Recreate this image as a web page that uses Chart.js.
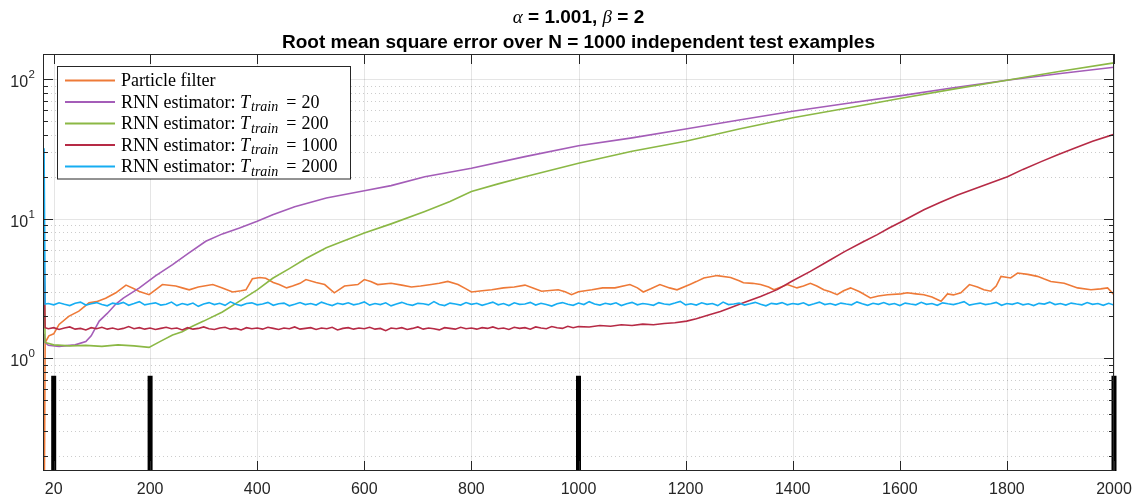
<!DOCTYPE html>
<html>
<head>
<meta charset="utf-8">
<script src="https://cdn.jsdelivr.net/npm/chart.js@4.4.1/dist/chart.umd.min.js"></script>
<style>
  html, body { margin: 0; padding: 0; background: #ffffff; }
  #wrap { width: 1132px; height: 495px; }
</style>
</head>
<body>
<div id="wrap"><canvas id="c" width="1132" height="495"></canvas></div>
<script>
// ---------------- data ----------------
const titleLine1 = ['α', ' = 1.001, ', 'β', ' = 2'];
const titleLine2 = 'Root mean square error over N = 1000 independent test examples';
const seriesNames = ['Particle filter', 'RNN estimator: ', 'RNN estimator: ', 'RNN estimator: ', 'RNN estimator: '];
const trainLengths = [null, '20', '200', '1000', '2000'];
const xTicks = [20, 200, 400, 600, 800, 1000, 1200, 1400, 1600, 1800, 2000];
const yMajorTicks = [1, 10, 100];
const yMinorTicks = [0.2, 0.3, 0.4, 0.5, 0.6, 0.7, 0.8, 0.9, 2, 3, 4, 5, 6, 7, 8, 9, 20, 30, 40, 50, 60, 70, 80, 90];
const markerSteps = [20, 200, 1000, 2000];
const markerHeight = 0.75;

const pfT = [1, 2, 4, 11, 20, 30, 48, 67, 86, 100, 117, 136, 155, 170, 180, 198, 210, 223, 248, 260, 273, 290, 317, 335, 354, 370, 379, 391, 405, 416, 430, 441, 455, 466, 480, 491, 510, 526, 544, 563, 588, 600, 612, 625, 650, 670, 688, 705, 725, 740, 756, 775, 790, 800, 820, 838, 860, 880, 900, 915, 931, 962, 975, 987, 1000, 1025, 1045, 1068, 1096, 1110, 1121, 1135, 1152, 1170, 1184, 1209, 1220, 1234, 1259, 1284, 1300, 1308, 1325, 1340, 1355, 1365, 1390, 1408, 1420, 1433, 1445, 1458, 1470, 1483, 1495, 1508, 1525, 1545, 1560, 1577, 1602, 1614, 1630, 1645, 1660, 1677, 1689, 1700, 1714, 1730, 1745, 1757, 1770, 1780, 1789, 1807, 1820, 1839, 1857, 1870, 1882, 1907, 1932, 1957, 1975, 1988, 2000];
const pfV = [0.05, 0.05, 1.3, 1.45, 1.5, 1.75, 2.0, 2.18, 2.5, 2.55, 2.7, 2.95, 3.35, 3.15, 3.02, 2.86, 3.1, 3.38, 3.3, 3.2, 3.1, 3.25, 3.38, 3.2, 2.99, 3.05, 3.1, 3.72, 3.8, 3.75, 3.5, 3.38, 3.2, 3.3, 3.45, 3.67, 3.5, 3.38, 2.95, 3.3, 3.38, 3.67, 3.55, 3.38, 3.45, 3.35, 3.25, 3.3, 3.38, 3.45, 3.56, 3.38, 3.15, 2.99, 3.05, 3.1, 3.2, 3.25, 3.35, 3.2, 3.03, 3.1, 3.0, 2.86, 3.0, 3.1, 3.2, 3.2, 3.38, 3.2, 2.99, 3.15, 3.38, 3.2, 3.1, 3.4, 3.55, 3.77, 3.92, 3.8, 3.6, 3.48, 3.45, 3.38, 3.25, 3.1, 3.38, 3.2, 3.3, 3.45, 3.3, 3.1, 3.0, 2.86, 3.05, 3.2, 3.0, 2.71, 2.8, 2.86, 2.9, 2.95, 2.9, 2.86, 2.75, 2.57, 2.9, 2.85, 2.95, 3.38, 3.25, 3.1, 3.03, 3.3, 3.87, 3.77, 4.09, 4.0, 3.87, 3.7, 3.56, 3.45, 3.2, 3.1, 3.15, 3.2, 2.86];

const rnn20T = [2, 4, 10, 30, 60, 80, 90, 105, 120, 136, 150, 180, 210, 242, 270, 304, 335, 367, 400, 429, 470, 529, 600, 650, 713, 800, 900, 1000, 1100, 1200, 1300, 1400, 1500, 1600, 1700, 1800, 1900, 2000];
const rnn20V = [1.5, 1.3, 1.24, 1.22, 1.25, 1.32, 1.45, 1.85, 2.1, 2.45, 2.7, 3.2, 3.9, 4.7, 5.6, 6.9, 7.8, 8.6, 9.6, 10.7, 12.2, 14.1, 15.9, 17.3, 20, 23, 27.9, 33.4, 38, 44, 51, 59, 67, 76, 87, 98.4, 110, 122];

const rnn200T = [2, 4, 20, 50, 80, 110, 140, 170, 198, 220, 242, 260, 279, 300, 335, 367, 400, 429, 460, 491, 529, 560, 600, 650, 713, 760, 800, 850, 900, 1000, 1100, 1200, 1300, 1400, 1500, 1600, 1700, 1800, 1900, 2000];
const rnn200V = [5.0, 1.3, 1.25, 1.23, 1.24, 1.22, 1.25, 1.23, 1.2, 1.33, 1.47, 1.55, 1.7, 1.85, 2.15, 2.57, 3.1, 3.75, 4.4, 5.2, 6.2, 6.9, 7.9, 9.2, 11.3, 13.3, 15.7, 17.8, 20, 25, 30.5, 36, 44, 53, 62, 72.8, 85, 98.4, 114, 131];

// T_train = 1000: start, flat part sampled every 10 steps, then the rise
const rnn1000StartT = [2, 4];
const rnn1000StartV = [5.2, 1.66];
const rnn1000FlatV = [
  1.63,1.66,1.61,1.65,1.68,1.62,1.64,1.60,1.66,1.63,1.67,1.62,1.65,1.61,1.64,1.69,1.63,1.66,1.62,1.65,
  1.61,1.64,1.67,1.63,1.65,1.60,1.66,1.62,1.64,1.68,1.63,1.61,1.65,1.67,1.62,1.64,1.60,1.66,1.63,1.65,
  1.62,1.67,1.64,1.61,1.65,1.63,1.68,1.62,1.64,1.66,1.61,1.65,1.63,1.67,1.60,1.64,1.66,1.62,1.65,1.63,
  1.67,1.62,1.64,1.58,1.65,1.63,1.66,1.61,1.64,1.68,1.62,1.65,1.63,1.60,1.66,1.64,1.62,1.67,1.63,1.65,
  1.62,1.66,1.64,1.68,1.63,1.65,1.61,1.67,1.64,1.66,1.62,1.68,1.65,1.63,1.69,1.66,1.64,1.70,1.66,1.69];
const rnn1000RiseT = [1020, 1040, 1060, 1080, 1100, 1120, 1140, 1160, 1180, 1202, 1220, 1246, 1265, 1280, 1308, 1340, 1371, 1400, 1433, 1465, 1496, 1530, 1558, 1580, 1602, 1645, 1675, 1708, 1750, 1801, 1830, 1864, 1895, 1926, 1960, 2000];
const rnn1000RiseV = [1.68, 1.72, 1.70, 1.74, 1.72, 1.76, 1.74, 1.78, 1.80, 1.85, 1.92, 2.06, 2.17, 2.28, 2.5, 2.78, 3.11, 3.6, 4.2, 4.95, 5.8, 6.8, 7.7, 8.6, 9.5, 11.6, 13.1, 14.8, 17.0, 20, 22.6, 25.7, 28.8, 32, 36, 40.3];

// T_train = 2000: spike, then values every 10 steps from 10 to 2000
const rnn2000StartT = [2, 4];
const rnn2000StartV = [32, 2.45];
const rnn2000V = [
  2.47,2.42,2.50,2.44,2.39,2.48,2.53,2.41,2.46,2.51,2.43,2.38,2.49,2.45,2.52,2.40,2.47,2.55,2.42,2.46,
  2.50,2.41,2.44,2.53,2.39,2.47,2.42,2.49,2.36,2.45,2.51,2.43,2.48,2.40,2.54,2.44,2.39,2.47,2.50,2.42,
  2.45,2.52,2.40,2.46,2.49,2.38,2.44,2.51,2.43,2.47,2.41,2.53,2.45,2.39,2.48,2.44,2.50,2.42,2.46,2.54,
  2.41,2.47,2.43,2.50,2.38,2.45,2.52,2.44,2.40,2.48,2.46,2.42,2.55,2.43,2.39,2.49,2.45,2.41,2.51,2.44,
  2.48,2.40,2.46,2.53,2.42,2.47,2.39,2.50,2.44,2.45,2.52,2.41,2.48,2.43,2.37,2.46,2.51,2.44,2.40,2.49,
  2.43,2.55,2.45,2.41,2.48,2.44,2.50,2.39,2.46,2.52,2.42,2.47,2.44,2.40,2.51,2.45,2.43,2.49,2.56,2.42,
  2.46,2.41,2.50,2.44,2.47,2.39,2.53,2.43,2.45,2.49,2.41,2.46,2.52,2.44,2.38,2.48,2.45,2.51,2.42,2.47,
  2.44,2.50,2.40,2.46,2.53,2.43,2.47,2.41,2.49,2.45,2.42,2.54,2.46,2.40,2.48,2.44,2.51,2.43,2.47,2.39,
  2.49,2.45,2.42,2.52,2.44,2.47,2.40,2.50,2.46,2.43,2.48,2.55,2.41,2.45,2.49,2.43,2.46,2.52,2.40,2.47,
  2.44,2.50,2.42,2.46,2.39,2.48,2.45,2.53,2.43,2.47,2.41,2.49,2.45,2.42,2.51,2.44,2.47,2.40,2.48,2.41];

// ---------------- helpers ----------------
const zip = (ts, vs) => ts.map((t, i) => ({ x: t, y: vs[i] }));
const every10 = (start, n) => Array.from({ length: n }, (_, i) => start + 10 * i);

const rnn1000Data = zip(rnn1000StartT, rnn1000StartV)
  .concat(zip(every10(10, rnn1000FlatV.length), rnn1000FlatV))
  .concat(zip(rnn1000RiseT, rnn1000RiseV));
const rnn2000Data = zip(rnn2000StartT, rnn2000StartV)
  .concat(zip(every10(10, rnn2000V.length), rnn2000V));
const markerData = [];
markerSteps.forEach(s => { markerData.push({ x: s, y: 0.01 }, { x: s, y: markerHeight }, { x: s, y: null }); });

const colors = ['#EE7A38', '#A45DB8', '#8BB845', '#B62A45', '#16ADF2'];
const AXIS = '#262626';

function seg(ctx, x1, y1, x2, y2) { ctx.beginPath(); ctx.moveTo(x1, y1); ctx.lineTo(x2, y2); ctx.stroke(); }

const matlabFrame = {
  id: 'matlabFrame',
  beforeDatasetsDraw(chart) {
    const { ctx, chartArea: a, scales: { x, y } } = chart;
    ctx.save();
    ctx.lineWidth = 1;
    ctx.strokeStyle = 'rgba(0,0,0,0.2)';
    ctx.setLineDash([1, 3]);
    yMinorTicks.forEach(v => { const p = Math.round(y.getPixelForValue(v)) + 0.5; seg(ctx, a.left, p, a.right, p); });
    ctx.setLineDash([]);
    ctx.strokeStyle = 'rgba(0,0,0,0.1)';
    yMajorTicks.forEach(v => { const p = Math.round(y.getPixelForValue(v)) + 0.5; seg(ctx, a.left, p, a.right, p); });
    xTicks.forEach(v => { const p = Math.round(x.getPixelForValue(v)) + 0.5; seg(ctx, p, a.top, p, a.bottom); });
    ctx.restore();
  },
  afterDraw(chart) {
    const { ctx, chartArea: a, scales: { x, y } } = chart;
    ctx.save();
    // box
    ctx.strokeStyle = AXIS; ctx.lineWidth = 1;
    ctx.strokeRect(Math.round(a.left) + 0.5, Math.round(a.top) + 0.5, Math.round(a.right - a.left) - 1, Math.round(a.bottom - a.top) - 1);
    // x ticks
    xTicks.forEach(v => {
      const p = Math.round(x.getPixelForValue(v)) + 0.5;
      seg(ctx, p, a.bottom, p, a.bottom - 10);
      seg(ctx, p, a.top, p, a.top + 10);
    });
    // y ticks
    yMajorTicks.forEach(v => {
      const p = Math.round(y.getPixelForValue(v)) + 0.5;
      seg(ctx, a.left, p, a.left + 10, p); seg(ctx, a.right, p, a.right - 10, p);
    });
    yMinorTicks.forEach(v => {
      const p = Math.round(y.getPixelForValue(v)) + 0.5;
      seg(ctx, a.left, p, a.left + 5, p); seg(ctx, a.right, p, a.right - 5, p);
    });
    // x labels
    ctx.fillStyle = AXIS;
    ctx.font = '16px "Liberation Sans", Arial, sans-serif';
    ctx.textAlign = 'center'; ctx.textBaseline = 'alphabetic';
    xTicks.forEach(v => ctx.fillText(String(v), x.getPixelForValue(v), a.bottom + 23));
    // y labels 10^n
    yMajorTicks.forEach(v => {
      const p = y.getPixelForValue(v);
      const e = String(Math.round(Math.log10(v)));
      ctx.font = '11.5px "Liberation Sans", Arial, sans-serif';
      const ew = ctx.measureText(e).width;
      ctx.textAlign = 'right';
      ctx.fillText(e, a.left - 8, p - 1);
      ctx.font = '16px "Liberation Sans", Arial, sans-serif';
      ctx.fillText('10', a.left - 8 - ew - 0.5, p + 8);
    });
    // title
    ctx.fillStyle = '#000';
    ctx.textAlign = 'left';
    const cx = (a.left + a.right) / 2;
    const fonts1 = ['italic 19px "Liberation Serif", serif', 'bold 19px "Liberation Sans", Arial, sans-serif'];
    let w = 0;
    titleLine1.forEach((s, i) => { ctx.font = fonts1[i % 2 === 0 ? 0 : 1]; w += ctx.measureText(s).width; });
    let tx = cx - w / 2;
    titleLine1.forEach((s, i) => { ctx.font = fonts1[i % 2 === 0 ? 0 : 1]; ctx.fillText(s, tx, 23); tx += ctx.measureText(s).width; });
    ctx.font = 'bold 19px "Liberation Sans", Arial, sans-serif';
    ctx.textAlign = 'center';
    ctx.fillText(titleLine2, cx, 48);
    // legend
    const L = { x: 57.5, y: 66.5, w: 293, h: 112.5 };
    ctx.fillStyle = '#fff';
    ctx.fillRect(L.x, L.y, L.w, L.h);
    ctx.strokeStyle = AXIS; ctx.lineWidth = 1;
    ctx.strokeRect(L.x, L.y, L.w, L.h);
    ctx.textAlign = 'left';
    const RM = '18px "Liberation Serif", serif';
    const IT = 'italic 18px "Liberation Serif", serif';
    const SUB = 'italic 14px "Liberation Serif", serif';
    chart.data.datasets.slice(0, 5).forEach((ds, i) => {
      const ry = 80.5 + i * 21.5;
      ctx.strokeStyle = ds.borderColor; ctx.lineWidth = 1.8;
      seg(ctx, L.x + 7.5, ry, L.x + 57.5, ry);
      ctx.fillStyle = '#000';
      const bl = ry + 5.5;
      let px = L.x + 63.5;
      ctx.font = RM;
      ctx.fillText(seriesNames[i], px, bl);
      px += ctx.measureText(seriesNames[i]).width;
      if (trainLengths[i]) {
        ctx.font = IT;
        ctx.fillText('T', px, bl);
        px += ctx.measureText('T').width + 1;
        ctx.font = SUB;
        ctx.fillText('train', px, bl + 3.5);
        px += ctx.measureText('train').width + 8;
        ctx.font = RM;
        ctx.fillText('=', px, bl);
        px += ctx.measureText('=').width + 5;
        ctx.fillText(trainLengths[i], px, bl);
      }
    });
    ctx.restore();
  }
};

const lineStyle = (label, data, color, order) => ({
  label, data, borderColor: color, backgroundColor: color, borderWidth: 1.6,
  pointRadius: 0, tension: 0, fill: false, order, spanGaps: false
});

new Chart(document.getElementById('c'), {
  type: 'line',
  data: {
    datasets: [
      lineStyle('Particle filter', zip(pfT, pfV), colors[0], 5),
      lineStyle('RNN estimator: T_train = 20', zip(rnn20T, rnn20V), colors[1], 4),
      lineStyle('RNN estimator: T_train = 200', zip(rnn200T, rnn200V), colors[2], 3),
      lineStyle('RNN estimator: T_train = 1000', rnn1000Data, colors[3], 2),
      lineStyle('RNN estimator: T_train = 2000', rnn2000Data, colors[4], 1),
      { label: 'markers', data: markerData, borderColor: '#000', borderWidth: 5, borderCapStyle: 'butt',
        pointRadius: 0, spanGaps: false, order: 6, clip: { left: 3, right: 3, top: 0, bottom: 0 } }
    ]
  },
  options: {
    responsive: false,
    animation: false,
    devicePixelRatio: 1,
    layout: { padding: { left: 43, right: 18, top: 54, bottom: 24 } },
    plugins: { legend: { display: false }, tooltip: { enabled: false }, title: { display: false } },
    scales: {
      x: { type: 'linear', min: 0, max: 2000,
           ticks: { display: false }, grid: { display: false }, border: { display: false },
           afterFit: s => { s.height = 0; } },
      y: { type: 'logarithmic', min: 0.156, max: 151.7,
           ticks: { display: false }, grid: { display: false }, border: { display: false },
           afterFit: s => { s.width = 0; } }
    }
  },
  plugins: [matlabFrame]
});
</script>
</body>
</html>
